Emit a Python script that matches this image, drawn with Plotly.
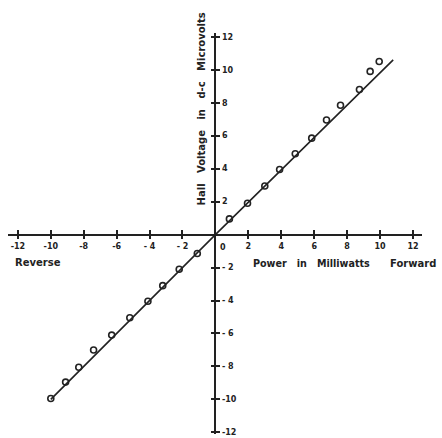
import plotly.graph_objects as go

# Measured Hall voltage vs. power (forward and reverse)
power_mw = [-10.0, -9.1, -8.3, -7.4, -6.3, -5.2, -4.1, -3.2, -2.2, -1.1,
            0.85, 1.95, 3.0, 3.9, 4.85, 5.85, 6.75, 7.6, 8.75, 9.4, 9.95]
hall_uv = [-9.95, -8.95, -8.05, -7.0, -6.1, -5.05, -4.05, -3.1, -2.1, -1.15,
           0.95, 1.9, 2.95, 3.95, 4.9, 5.85, 6.95, 7.85, 8.8, 9.9, 10.5]

# Straight-line fit drawn through the origin
fit_x = [-10.0, 0.0, 10.8]
fit_y = [-10.0, 0.0, 10.6]

tick_vals = [-12, -10, -8, -6, -4, -2, 2, 4, 6, 8, 10, 12]
x_tick_text = ["-12", "-10", "-8", "-6", "- 4", "- 2", "2", "4", "6", "8", "10", "12"]
y_tick_text = ["-12", "-10", "- 8", "- 6", "- 4", "- 2", "2", "4", "6", "8", "10", "12"]

X_RANGE = [-12.6, 12.55]
Y_RANGE = [-12.1, 12.23]
x_zero_frac = (0 - X_RANGE[0]) / (X_RANGE[1] - X_RANGE[0])
y_zero_frac = (0 - Y_RANGE[0]) / (Y_RANGE[1] - Y_RANGE[0])

FONT = "DejaVu Sans"
INK = "#222222"

fig = go.Figure()
fig.add_trace(go.Scatter(x=fit_x, y=fit_y, mode="lines",
                         line=dict(color=INK, width=1.6), showlegend=False,
                         cliponaxis=False))
fig.add_trace(go.Scatter(x=power_mw, y=hall_uv, mode="markers",
                         marker=dict(symbol="circle-open", size=6,
                                     color=INK, line=dict(width=1.6)),
                         showlegend=False, cliponaxis=False))

tick_font = dict(family=FONT, size=8, color=INK, weight="bold")

# origin label shared by both axes
fig.add_trace(go.Scatter(x=[0.45], y=[-0.8], mode="text", text=["0"],
                         textfont=tick_font, showlegend=False,
                         cliponaxis=False, hoverinfo="skip"))

axis_common = dict(showgrid=False, zeroline=False, showline=True,
                   linecolor=INK, linewidth=1.8, tickcolor=INK,
                   tickwidth=1.5, ticklen=4, tickmode="array",
                   tickvals=tick_vals, anchor="free",
                   ticklabeloverflow="allow")

fig.update_layout(
    width=442, height=438,
    margin=dict(l=8, r=20, t=33, b=1),
    paper_bgcolor="white", plot_bgcolor="white",
    xaxis=dict(range=X_RANGE, side="bottom", position=y_zero_frac,
               ticks="outside", ticktext=x_tick_text, tickfont=tick_font,
               **axis_common),
    xaxis2=dict(range=X_RANGE, side="top", position=y_zero_frac,
                overlaying="x", ticks="outside", showticklabels=False,
                **axis_common),
    yaxis=dict(range=Y_RANGE, side="right", position=x_zero_frac,
               ticks="outside", ticktext=y_tick_text, tickfont=tick_font,
               **axis_common),
    yaxis2=dict(range=Y_RANGE, side="left", position=x_zero_frac,
                overlaying="y", ticks="outside", showticklabels=False,
                **axis_common),
)

# invisible trace so the overlaid axes get drawn
fig.add_trace(go.Scatter(x=[None], y=[None], xaxis="x2", yaxis="y2",
                         showlegend=False))

label_font = dict(family=FONT, size=10, color=INK, weight="bold")
annotations = [
    dict(text="Power&nbsp;&nbsp;&nbsp;in&nbsp;&nbsp;&nbsp;Milliwatts",
         x=2.15, y=-1.75, xanchor="left",
         font=dict(label_font, size=9.6)),
    dict(text="Forward", x=10.5, y=-1.75, xanchor="left"),
    dict(text="Reverse", x=-12.3, y=-1.7, xanchor="left"),
    dict(text="Hall&nbsp;&nbsp;&nbsp;Voltage&nbsp;&nbsp;&nbsp;in&nbsp;&nbsp;&nbsp;d-c&nbsp;&nbsp;&nbsp;Microvolts",
         x=-0.87, y=7.6, textangle=-90, xanchor="center"),
]
for a in annotations:
    a.setdefault("font", label_font)
    a.update(xref="x", yref="y", yanchor="middle", showarrow=False)
fig.update_layout(annotations=annotations)

fig.write_html("out.html")
